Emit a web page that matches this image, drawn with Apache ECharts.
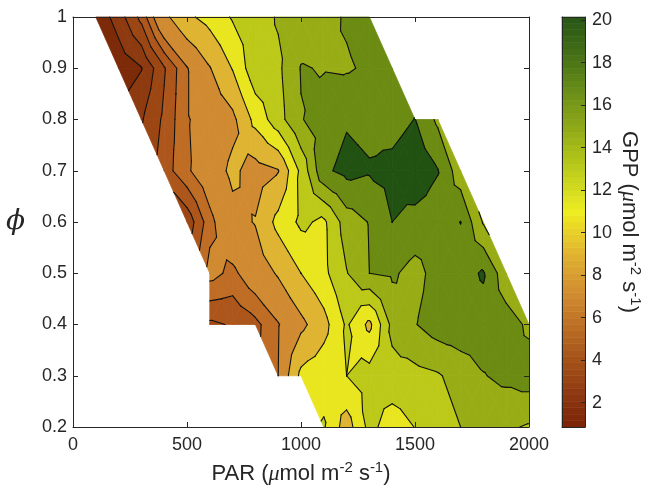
<!DOCTYPE html>
<html><head><meta charset="utf-8">
<script src="https://cdn.jsdelivr.net/npm/echarts@6/dist/echarts.min.js"></script>
<style>html,body{margin:0;padding:0;background:#fff}#c{width:646px;height:493px}</style>
</head><body><div id="c"></div>
<script>
// ---------------- data ----------------
const parValues = [100,200,300,400,500,600,700,800,900,1000,1100,1200,1300,1400,1500,1600,1700,1800,1900,2000];
const phiValues = [1.0,0.9,0.8,0.7,0.6,0.5,0.4,0.3,0.2];
// GPP (umol m-2 s-1) per phi row, one value per PAR column (null = no data)
const gppPhi10 = [1.2,2.5,4.3,7.5,9.6,10.7,12.2,13.0,14.2,14.8,15.4,16.2,16.8,null,null,null,null,null,null,null];
const gppPhi09 = [null,1.3,1.95,3.9,5.9,7.9,10.1,13.4,13.6,16.1,15.9,15.8,16.3,16.6,null,null,null,null,null,null];
const gppPhi08 = [null,null,2.9,4.2,5.9,6.6,7.5,10.6,13.2,15.9,16.8,17.8,17.4,17.2,18.05,15.6,null,null,null,null];
const gppPhi07 = [null,null,null,4.5,5.8,7.0,8.4,7.2,7.9,12.5,17.6,18.6,18.2,18.6,19.4,18.1,14.8,null,null,null];
const gppPhi06 = [null,null,null,null,3.3,5.6,7.4,8.1,10.6,12.4,11.6,15.0,16.1,18.0,17.3,17.0,18.03,13.8,null,null];
const gppPhi05 = [null,null,null,null,null,6.4,5.7,6.9,8.2,10.0,11.5,13.9,16.0,16.3,15.3,16.8,17.3,18.2,14.6,null];
const gppPhi04 = [null,null,null,null,null,3.8,4.1,4.7,5.9,7.5,9.3,12.3,9.5,14.6,15.9,17.0,17.3,17.2,17.0,15.6];
const gppPhi03 = [null,null,null,null,null,null,null,null,6.0,10.5,11.2,12.0,12.8,13.2,13.4,13.8,14.8,15.9,16.5,17.0];
const gppPhi02 = [null,null,null,null,null,null,null,null,null,null,12.2,9.0,12.6,11.0,12.05,13.0,14.0,14.6,14.3,13.8];
const gppRows = [gppPhi10,gppPhi09,gppPhi08,gppPhi07,gppPhi06,gppPhi05,gppPhi04,gppPhi03,gppPhi02];

const contourLevels = [2,3,4,5,6,8,10,12,14,16,18];
const bandColors = ['#7d2a08','#8e3a10','#9c4614','#ad561c','#bf6c25','#d08a31','#dfb432','#e9e620','#bdc919','#98ad15','#6b8b12','#215212'];

const xTickLabels = [0,500,1000,1500,2000];
const yTickLabels = [0.2,0.3,0.4,0.5,0.6,0.7,0.8,0.9,1];
const colorbarTicks = [2,4,6,8,10,12,14,16,18,20];
const colorbarLimits = [0.85,20.15];
const colormapStops = [
  [0.85,'#7a2406'],[2,'#883210'],[4,'#a45218'],[6,'#c27628'],[7,'#d08a30'],[8,'#d89c30'],[9,'#e0b430'],
  [10,'#e8d028'],[11,'#eeee20'],[12,'#d4dc20'],[13,'#bccb1a'],[14,'#a4ba18'],[15,'#8ea818'],
  [16,'#789818'],[17,'#628818'],[18,'#4c7616'],[19,'#3a6616'],[20.15,'#285616']
];

// ---------------- contour geometry (data space) ----------------
function adj(v){ for (const L of contourLevels) if (Math.abs(v-L)<1e-9) return v+1e-6; return v; }
const triangles = [];
for (let r=0;r<phiValues.length-1;r++){
  for (let c=0;c<parValues.length-1;c++){
    const ring = [
      [parValues[c],phiValues[r],gppRows[r][c]],
      [parValues[c+1],phiValues[r],gppRows[r][c+1]],
      [parValues[c+1],phiValues[r+1],gppRows[r+1][c+1]],
      [parValues[c],phiValues[r+1],gppRows[r+1][c]]
    ].map(p=>[p[0],p[1],p[2]==null?null:adj(p[2])]);
    const valid = ring.filter(p=>p[2]!=null);
    if (valid.length===4){
      const ctr=[(ring[0][0]+ring[1][0])/2,(ring[0][1]+ring[3][1])/2,adj((ring[0][2]+ring[1][2]+ring[2][2]+ring[3][2])/4)];
      for (let k=0;k<4;k++) triangles.push([ring[k],ring[(k+1)%4],ctr]);
    } else if (valid.length===3){
      triangles.push(valid);
    }
  }
}
function clip(poly, level, keepAbove){
  const out=[];
  for (let i=0;i<poly.length;i++){
    const a=poly[i], b=poly[(i+1)%poly.length];
    const ia = keepAbove ? a[2]>=level : a[2]<=level;
    const ib = keepAbove ? b[2]>=level : b[2]<=level;
    if (ia) out.push(a);
    if (ia!==ib){
      const t=(level-a[2])/(b[2]-a[2]);
      out.push([a[0]+t*(b[0]-a[0]), a[1]+t*(b[1]-a[1]), level]);
    }
  }
  return out;
}
const edges = [-Infinity].concat(contourLevels,[Infinity]);
const bandPolys = [];
const segs = [];
for (const tri of triangles){
  for (let b=0;b<edges.length-1;b++){
    let p = tri;
    if (isFinite(edges[b])) p = clip(p, edges[b], true);
    if (p.length>=3 && isFinite(edges[b+1])) p = clip(p, edges[b+1], false);
    if (p.length>=3) bandPolys.push({pts:p, band:b});
  }
  for (const L of contourLevels){
    const pts=[];
    for (let i=0;i<3;i++){
      const a=tri[i], bb=tri[(i+1)%3];
      if ((a[2]-L)*(bb[2]-L)<0){
        const t=(L-a[2])/(bb[2]-a[2]);
        pts.push([a[0]+t*(bb[0]-a[0]), a[1]+t*(bb[1]-a[1])]);
      }
    }
    if (pts.length===2) segs.push(pts);
  }
}
function hex(c){return [parseInt(c.slice(1,3),16),parseInt(c.slice(3,5),16),parseInt(c.slice(5,7),16)];}
function cmap(v){
  for (let i=0;i<colormapStops.length-1;i++){
    const [v0,c0]=colormapStops[i],[v1,c1]=colormapStops[i+1];
    if (v<=v1 || i===colormapStops.length-2){
      const t=Math.max(0,Math.min(1,(v-v0)/(v1-v0)));
      const a=hex(c0),b=hex(c1);
      return 'rgb('+a.map((x,k)=>Math.round(x+t*(b[k]-x))).join(',')+')';
    }
  }
}
const NSEG=64, cbSegs=[];
for (let k=0;k<NSEG;k++){
  const v0=colorbarLimits[0]+k*(colorbarLimits[1]-colorbarLimits[0])/NSEG;
  const v1=colorbarLimits[0]+(k+1)*(colorbarLimits[1]-colorbarLimits[0])/NSEG;
  cbSegs.push([0,v0,v1]);
}

// ---------------- chart ----------------
const FONT='"Liberation Sans", Arial, Helvetica, sans-serif';
const AX='#262626';
const lineAx={show:true,onZero:false,lineStyle:{color:AX,width:1}};
const tickIn={show:true,inside:true,length:5,lineStyle:{color:AX,width:1}};
const unitRich={
  t:{fontSize:22,fontFamily:FONT,color:AX,lineHeight:28},
  m:{fontSize:22,fontFamily:'"Liberation Serif","DejaVu Serif",serif',fontStyle:'italic',color:AX,lineHeight:28},
  s:{fontSize:15,fontFamily:FONT,color:AX,lineHeight:16,verticalAlign:'top'}
};
const unitText='{t|(}{m|μ}{t|mol m}{s|-2}{t| s}{s|-1}{t|)}';
const chart=echarts.init(document.getElementById('c'),null,{renderer:'canvas',width:646,height:493});
chart.setOption({
  animation:false,
  backgroundColor:'#ffffff',
  grid:[
    {left:73,top:17,width:456,height:410,containLabel:false,outerBoundsMode:'none'},
    {left:562,top:17,width:23,height:410,containLabel:false,outerBoundsMode:'none'}
  ],
  xAxis:[
    {gridIndex:0,type:'value',min:xTickLabels[0],max:xTickLabels[xTickLabels.length-1],interval:500,position:'bottom',z:10,
     axisLine:lineAx,axisTick:tickIn,splitLine:{show:false},
     axisLabel:{fontSize:18,color:AX,fontFamily:FONT,margin:9,formatter:v=>String(v)},
     name:'{t|PAR }'+unitText,nameLocation:'middle',nameGap:33,nameTextStyle:{rich:unitRich}},
    {gridIndex:0,type:'value',min:0,max:2000,interval:500,position:'top',z:10,
     axisLine:lineAx,axisTick:tickIn,splitLine:{show:false},axisLabel:{show:false}},
    {gridIndex:1,type:'value',min:0,max:1,position:'bottom',z:10,axisLine:lineAx,axisTick:{show:false},axisLabel:{show:false},splitLine:{show:false}},
    {gridIndex:1,type:'value',min:0,max:1,position:'top',z:10,axisLine:lineAx,axisTick:{show:false},axisLabel:{show:false},splitLine:{show:false}}
  ],
  yAxis:[
    {gridIndex:0,type:'value',min:0.2,max:1,interval:0.1,position:'left',z:10,
     axisLine:lineAx,axisTick:tickIn,splitLine:{show:false},
     axisLabel:{fontSize:18,color:AX,fontFamily:FONT,margin:6,formatter:v=>String(Math.round(v*10)/10)},
     name:'\u03D5',nameLocation:'middle',nameRotate:0,nameGap:48,
     nameTextStyle:{fontSize:28,fontStyle:'italic',fontFamily:'"DejaVu Serif","Liberation Serif",serif',color:AX}},
    {gridIndex:0,type:'value',min:0.2,max:1,interval:0.1,position:'right',z:10,
     axisLine:lineAx,axisTick:tickIn,splitLine:{show:false},axisLabel:{show:false}},
    {gridIndex:1,type:'value',min:colorbarLimits[0],max:colorbarLimits[1],position:'right',z:10,
     axisLine:lineAx,splitLine:{show:false},
     axisTick:{show:true,inside:true,length:4,lineStyle:{color:AX},customValues:colorbarTicks},
     axisLabel:{fontSize:18,color:AX,fontFamily:FONT,margin:7,customValues:colorbarTicks},
     name:'{t|GPP }'+unitText,nameLocation:'middle',nameRotate:-90,nameGap:30,nameTextStyle:{rich:unitRich}},
    {gridIndex:1,type:'value',min:colorbarLimits[0],max:colorbarLimits[1],position:'left',z:10,
     axisLine:lineAx,axisTick:{show:false},axisLabel:{show:false},splitLine:{show:false}}
  ],
  series:[
    {type:'custom',name:'bands',xAxisIndex:0,yAxisIndex:0,silent:true,z:2,progressive:0,
     data:bandPolys.map((p,i)=>[p.pts[0][0],p.pts[0][1],i]),encode:{x:0,y:1},
     renderItem:(params,api)=>{const p=bandPolys[params.dataIndex];const col=bandColors[p.band];
       return {type:'polygon',shape:{points:p.pts.map(q=>api.coord([q[0],q[1]]))},style:{fill:col,stroke:col,lineWidth:0.8}};}},
    {type:'custom',name:'lines',xAxisIndex:0,yAxisIndex:0,silent:true,z:3,progressive:0,
     data:segs.map((s,i)=>[s[0][0],s[0][1],i]),encode:{x:0,y:1},
     renderItem:(params,api)=>{const s=segs[params.dataIndex];const a=api.coord(s[0]),b=api.coord(s[1]);
       return {type:'line',shape:{x1:a[0],y1:a[1],x2:b[0],y2:b[1]},style:{stroke:'#111',lineWidth:1.1,lineCap:'round'}};}},
    {type:'custom',name:'colorbar',xAxisIndex:2,yAxisIndex:2,silent:true,z:2,progressive:0,
     data:cbSegs,encode:{x:0,y:1},
     renderItem:(params,api)=>{const d=cbSegs[params.dataIndex];const p0=api.coord([0,d[1]]),p1=api.coord([1,d[2]]);
       const col=cmap((d[1]+d[2])/2);
       return {type:'rect',shape:{x:p0[0],y:p1[1],width:p1[0]-p0[0],height:p0[1]-p1[1]},style:{fill:col,stroke:col,lineWidth:0.6}};}}
  ]
});
</script></body></html>
